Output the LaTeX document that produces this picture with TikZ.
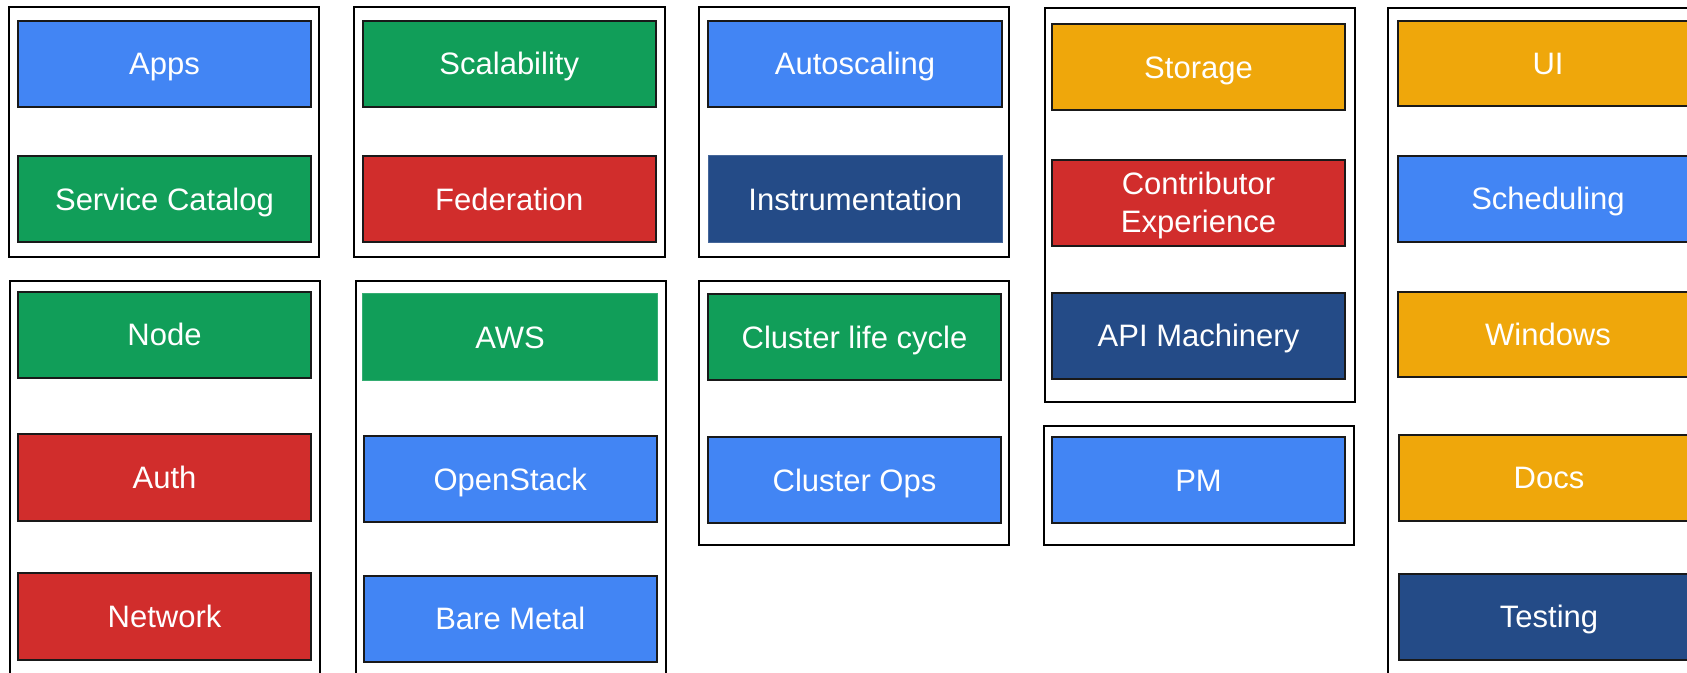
\documentclass[tikz,border=0pt]{standalone}
\usepackage{fontspec}
\setmainfont{Liberation Sans}
\definecolor{gblue}{HTML}{4285F4}
\definecolor{ggreen}{HTML}{119E59}
\definecolor{gred}{HTML}{D12D2C}
\definecolor{gorange}{HTML}{EFA70B}
\definecolor{gnavy}{HTML}{244B87}
\tikzset{
  tilebox/.style={draw=black!90, line width=1pt, inner sep=0pt, text=white,
    font=\fontsize{15.5}{19}\selectfont, text height=11.1pt, text depth=0pt},
  flat/.style={draw=#1!85!white, line width=0.5pt},
  frame/.style={draw=black, line width=1pt}
}
\newcommand\mytile[8][]{%
  \pgfmathsetmacro\tilew{(#5-#3)*0.5}%
  \pgfmathsetmacro\tileh{(#6-#4)*0.5}%
  \node[tilebox, fill=#7, minimum width=\tilew pt, minimum height=\tileh pt, #1]
    (#2) at ({(#3+#5)/2},{(#4+#6)/2}) {#8};}
\begin{document}
\begin{tikzpicture}[x=0.5pt, y=-0.5pt]
\useasboundingbox (0,0) rectangle (1687,673);
\clip (0,0) rectangle (1687,673);
% group frames
\draw[frame] (9,7) rectangle (319,257);
\draw[frame] (354,7) rectangle (665,257);
\draw[frame] (699,7) rectangle (1009,257);
\draw[frame] (1045,8.5) rectangle (1355,402);
\draw[frame] (10,281) rectangle (320,700);
\draw[frame] (356,281) rectangle (666,700);
\draw[frame] (699,281) rectangle (1009,545);
\draw[frame] (1044,426) rectangle (1354,545);
\draw[frame] (1388,8) rectangle (1720,700);
% column 1
\mytile{apps}{18}{20.7}{311}{106.7}{gblue}{Apps}
\mytile{svccat}{18}{155.7}{311}{242.3}{ggreen}{Service Catalog}
\mytile{node}{18}{291.7}{311}{377.7}{ggreen}{Node}
\mytile{auth}{18}{434.3}{311}{520.7}{gred}{Auth}
\mytile{network}{18}{573.3}{311}{660}{gred}{Network}
% column 2
\mytile{scal}{362.5}{20.7}{656}{106.7}{ggreen}{Scalability}
\mytile{fed}{362.5}{155.7}{656}{242.3}{gred}{Federation}
\mytile[flat=ggreen]{aws}{362.5}{293.3}{657.5}{381}{ggreen}{AWS}
\mytile{openstack}{363.5}{435.7}{657}{522.3}{gblue}{OpenStack}
\mytile{baremetal}{363.5}{575.7}{657}{661.7}{gblue}{Bare Metal}
% column 3
\mytile{autoscale}{708}{20.7}{1002}{106.7}{gblue}{Autoscaling}
\mytile[flat=gnavy]{instr}{708}{155.7}{1002.5}{242.7}{gnavy}{Instrumentation}
\mytile{clc}{708}{294}{1001}{380}{ggreen}{Cluster life cycle}
\mytile{clops}{708}{437.3}{1001}{523.3}{gblue}{Cluster Ops}
% column 4
\mytile{storage}{1052}{24}{1345}{110}{gorange}{Storage}
\mytile[align=center, text height=30.1pt]{contrib}{1052}{160}{1345}{245.7}{gred}{Contributor\\Experience}
\mytile{apimach}{1052}{292.7}{1345}{378.7}{gnavy}{API Machinery}
\mytile{pm}{1052}{437.3}{1345}{523.3}{gblue}{PM}
% column 5
\mytile{ui}{1398}{20.6}{1698}{106.4}{gorange}{UI}
\mytile{sched}{1398}{156.2}{1698}{241.6}{gblue}{Scheduling}
\mytile{windows}{1398}{291.8}{1698}{377.3}{gorange}{Windows}
\mytile{docs}{1399}{434.8}{1699}{520.6}{gorange}{Docs}
\mytile{testing}{1399}{573.8}{1699}{659.7}{gnavy}{Testing}
\end{tikzpicture}
\end{document}
